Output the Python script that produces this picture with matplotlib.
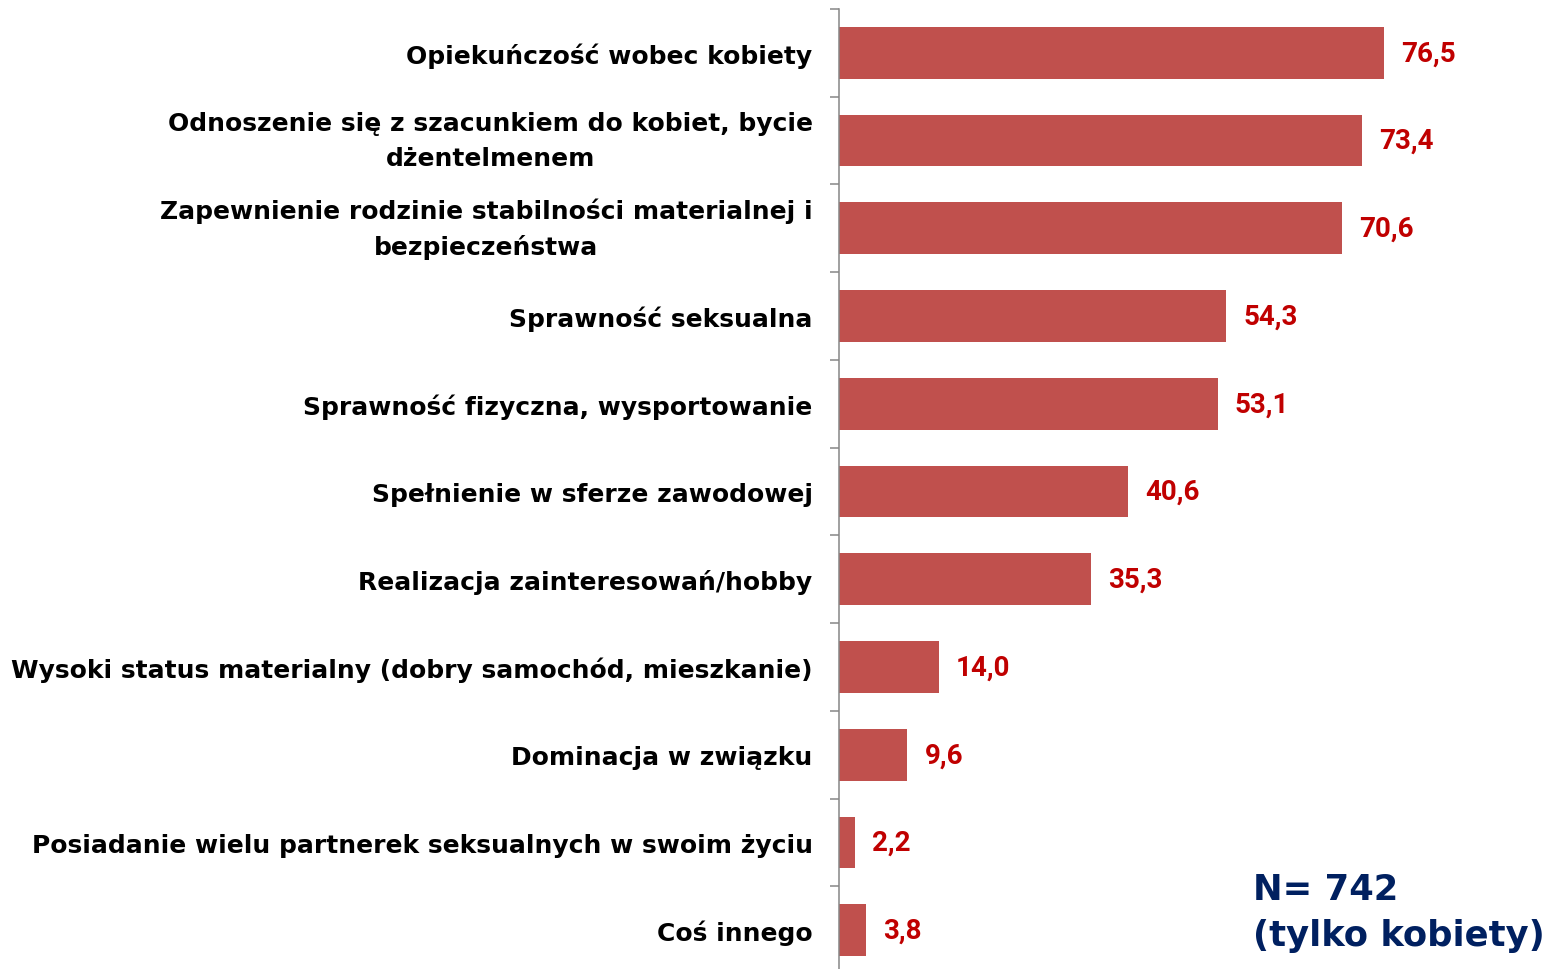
import numpy as np
import matplotlib.pyplot as plt

categories = [
    "Opiekuńczość wobec kobiety",
    "Odnoszenie się z szacunkiem do kobiet, bycie\ndżentelmenem",
    "Zapewnienie rodzinie stabilności materialnej i\nbezpieczeństwa",
    "Sprawność seksualna",
    "Sprawność fizyczna, wysportowanie",
    "Spełnienie w sferze zawodowej",
    "Realizacja zainteresowań/hobby",
    "Wysoki status materialny (dobry samochód, mieszkanie)",
    "Dominacja w związku",
    "Posiadanie wielu partnerek seksualnych w swoim życiu",
    "Coś innego",
]
values = [76.5, 73.4, 70.6, 54.3, 53.1, 40.6, 35.3, 14.0, 9.6, 2.2, 3.8]
note = "N= 742\n(tylko kobiety)"

plt.rcParams['font.family'] = ['DejaVu Sans']

fig = plt.figure(figsize=(15.52, 9.70), dpi=100)
ax = fig.add_axes([839 / 1552, -5 / 970, 1 - 839 / 1552, 965 / 970])

y = np.arange(len(categories))
ax.barh(y, values, height=0.59, color="#C0504D")
ax.set_xlim(0, 100)
ax.set_ylim(len(categories) - 0.5, -0.5)

# etykiety wartości przy słupkach
for yi, v in zip(y, values):
    ax.text(v + 2.4, yi, f"{v:.1f}".replace(".", ","), va="center", ha="left",
            color="#C00000", fontsize=20, fontweight="bold",
            family=["Roboto", "DejaVu Sans"])

ax.set_yticks(y)
ax.set_yticklabels(categories, fontsize=18, fontweight="bold",
                   multialignment="center", linespacing=1.55)
for lbl in ax.get_yticklabels():
    if "\n" in lbl.get_text():
        lbl.set_va("center")
ax.set_yticks(np.arange(len(categories) + 1) - 0.5, minor=True)
ax.tick_params(axis="y", which="major", length=0, pad=19)
ax.tick_params(axis="y", which="minor", length=6.5, width=1.1, color="#868686")
ax.set_xticks([])

for s in ["top", "right", "bottom"]:
    ax.spines[s].set_visible(False)
ax.spines["left"].set_color("#868686")
ax.spines["left"].set_linewidth(1.1)

fig.text(1253 / 1552, 1 - 873 / 970, note, ha="left", va="top",
         color="#002060", fontsize=25.5, fontweight="bold", linespacing=1.45)

fig.savefig("out.png", dpi=100)
